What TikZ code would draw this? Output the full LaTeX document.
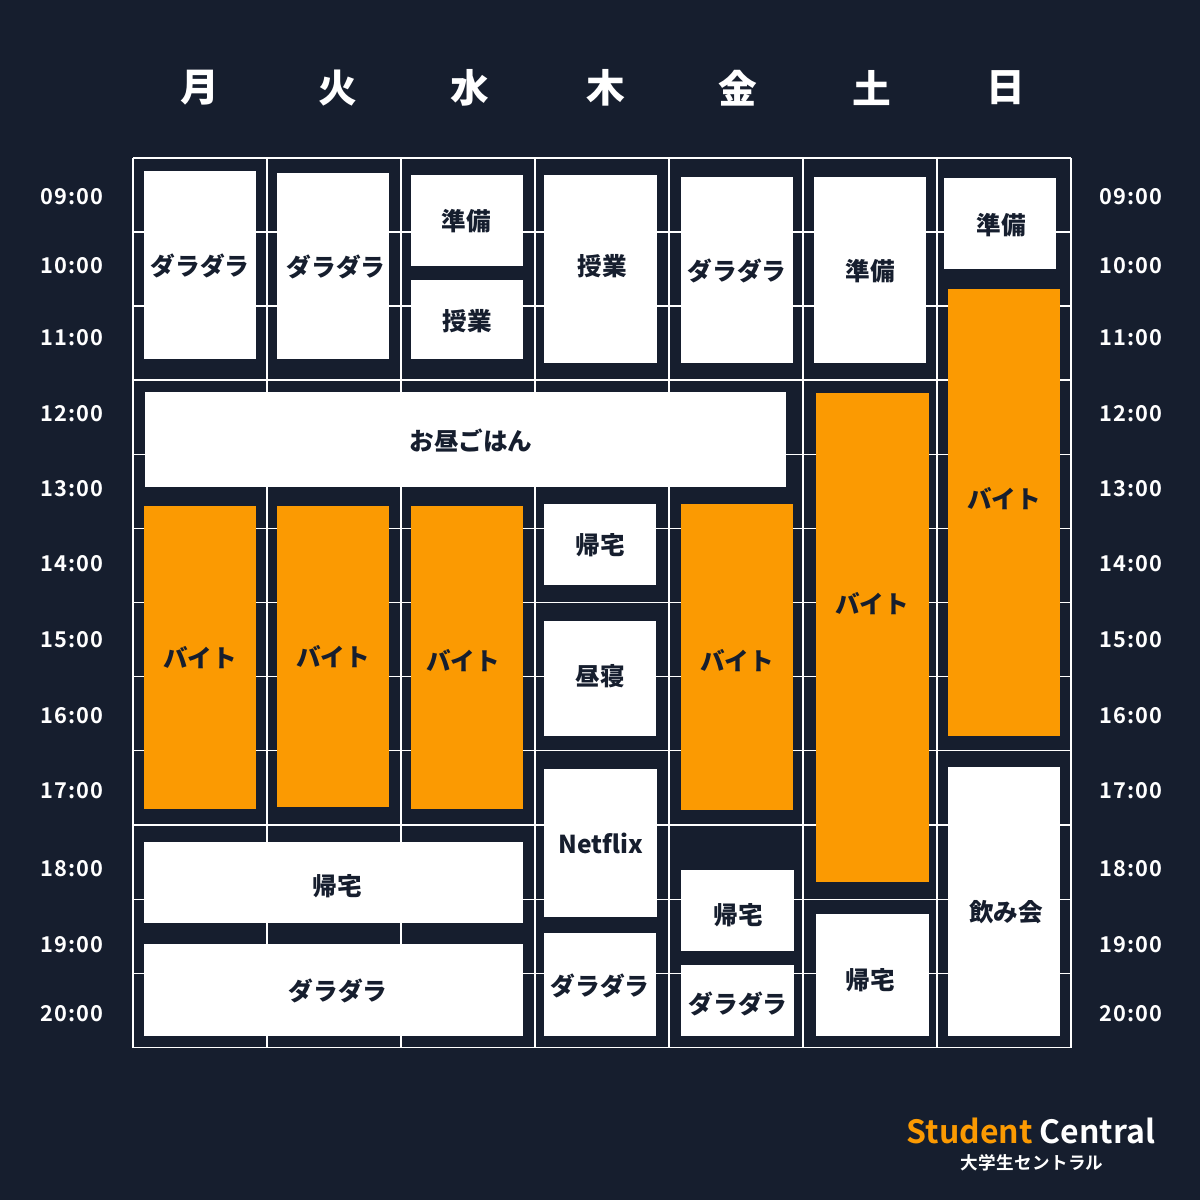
\documentclass[tikz,border=0pt]{standalone}
\usepackage{fontspec}
\setmainfont{Noto Sans CJK JP}[BoldFont={Noto Sans CJK JP Black}]
\newfontfamily\timefont{Noto Sans CJK JP Bold}[LetterSpace=5]
\newfontfamily\logofont{Noto Sans CJK JP Bold}
\newfontfamily\subfont{Noto Sans CJK JP Bold}[LetterSpace=2]
\usepackage{tikz}
\definecolor{night}{HTML}{161E2E}
\definecolor{shift}{HTML}{FB9A02}
\tikzset{
  gridline/.style={draw=white, line width=0.35pt},
  slot/.style={rectangle, inner sep=0pt, anchor=north west, fill=white},
  work/.style={slot, fill=shift},
  slottext/.style={text=night, font=\bfseries\fontsize{7}{8}\selectfont, inner sep=0pt},
  daytext/.style={text=white, font=\bfseries\fontsize{11}{12}\selectfont, inner sep=0pt},
  timetext/.style={text=white, font=\timefont\fontsize{6.2}{7}\selectfont, inner sep=0pt}
}
\begin{document}
\begin{tikzpicture}[x=0.01cm, y=-0.01cm]
  \useasboundingbox[fill=night] (0,0) rectangle (1200,1200);
  % grid
  \foreach \x in {133,267,401,535,669,803,937,1071}
    \draw[gridline] (\x,158) -- (\x,1047.5);
  \foreach \y in {158,232,306,380,454.5,528.5,602.5,676.5,750.5,825,899.5,973.5,1047.5}
    \draw[gridline] (133,\y) -- (1071,\y);
  % days
  \foreach \x/\d in {200/月,338/火,470/水,606/木,738/金,872/土,1006/日}
    \node[daytext] (day\d) at (\x,88) {\d};
  % hours on both sides
  \foreach \y/\t in {197/09:00,266/10:00,338/11:00,414/12:00,489/13:00,564/14:00,640/15:00,716/16:00,791/17:00,869/18:00,945/19:00,1014/20:00} {
    \node[timetext] (left\y) at (72,\y) {\t};
    \node[timetext] (right\y) at (1131,\y) {\t};
  }
  % slots
  \foreach \n/\xa/\ya/\xb/\yb/\kind/\tx/\ty/\lab in {
    a/143/170/255/358/slot/200/266/ダラダラ,
    b/276/172/388/358/slot/336/267/ダラダラ,
    c/410/174/522/265/slot/466/221/準備,
    d/410/279/522/358/slot/467/321/授業,
    e/543/174/656/362/slot/602/266/授業,
    f/680/176/792/362/slot/737/271/ダラダラ,
    g/813/176/925/362/slot/870/271/準備,
    h/943/177/1055/268/slot/1001/225/準備,
    i/947/288/1059/735/work/1004/499/バイト,
    j/144/391/785/486/slot/471/440/お昼ごはん,
    k/143/505/255/808/work/200/658/バイト,
    l/276/505/388/806/work/333/657/バイト,
    m/410/505/522/808/work/463/661/バイト,
    n/543/503/655/584/slot/600/545/帰宅,
    o/543/620/655/735/slot/600/676/昼寝,
    p/543/768/656/916/slot/601/843/Netflix,
    q/543/932/655/1035/slot/600/986/ダラダラ,
    r/680/503/792/809/work/737/661/バイト,
    s/680/869/793/950/slot/738/915/帰宅,
    t/680/964/793/1035/slot/738/1004/ダラダラ,
    u/815/392/928/881/work/872/604/バイト,
    v/815/913/928/1035/slot/870/980/帰宅,
    w/947/766/1059/1035/slot/1006/912/飲み会,
    x/143/841/522/922/slot/337/886/帰宅,
    y/143/943/522/1035/slot/338/991/ダラダラ%
  } {
    \node[\kind, minimum width={(\xb-\xa)*0.01cm}, minimum height={(\yb-\ya)*0.01cm}] (box\n) at (\xa,\ya) {};
    \node[slottext] (lab\n) at (\tx,\ty) {\lab};
  }
  % logo
  \node[inner sep=0pt, font=\logofont\fontsize{9.1}{10}\selectfont] (logo) at (1031,1130.5)
    {\textcolor{shift}{Student} \textcolor{white}{Central}};
  \node[inner sep=0pt, text=white, font=\subfont\fontsize{5}{6}\selectfont] (logosub) at (1032,1163) {大学生セントラル};
\end{tikzpicture}
\end{document}
